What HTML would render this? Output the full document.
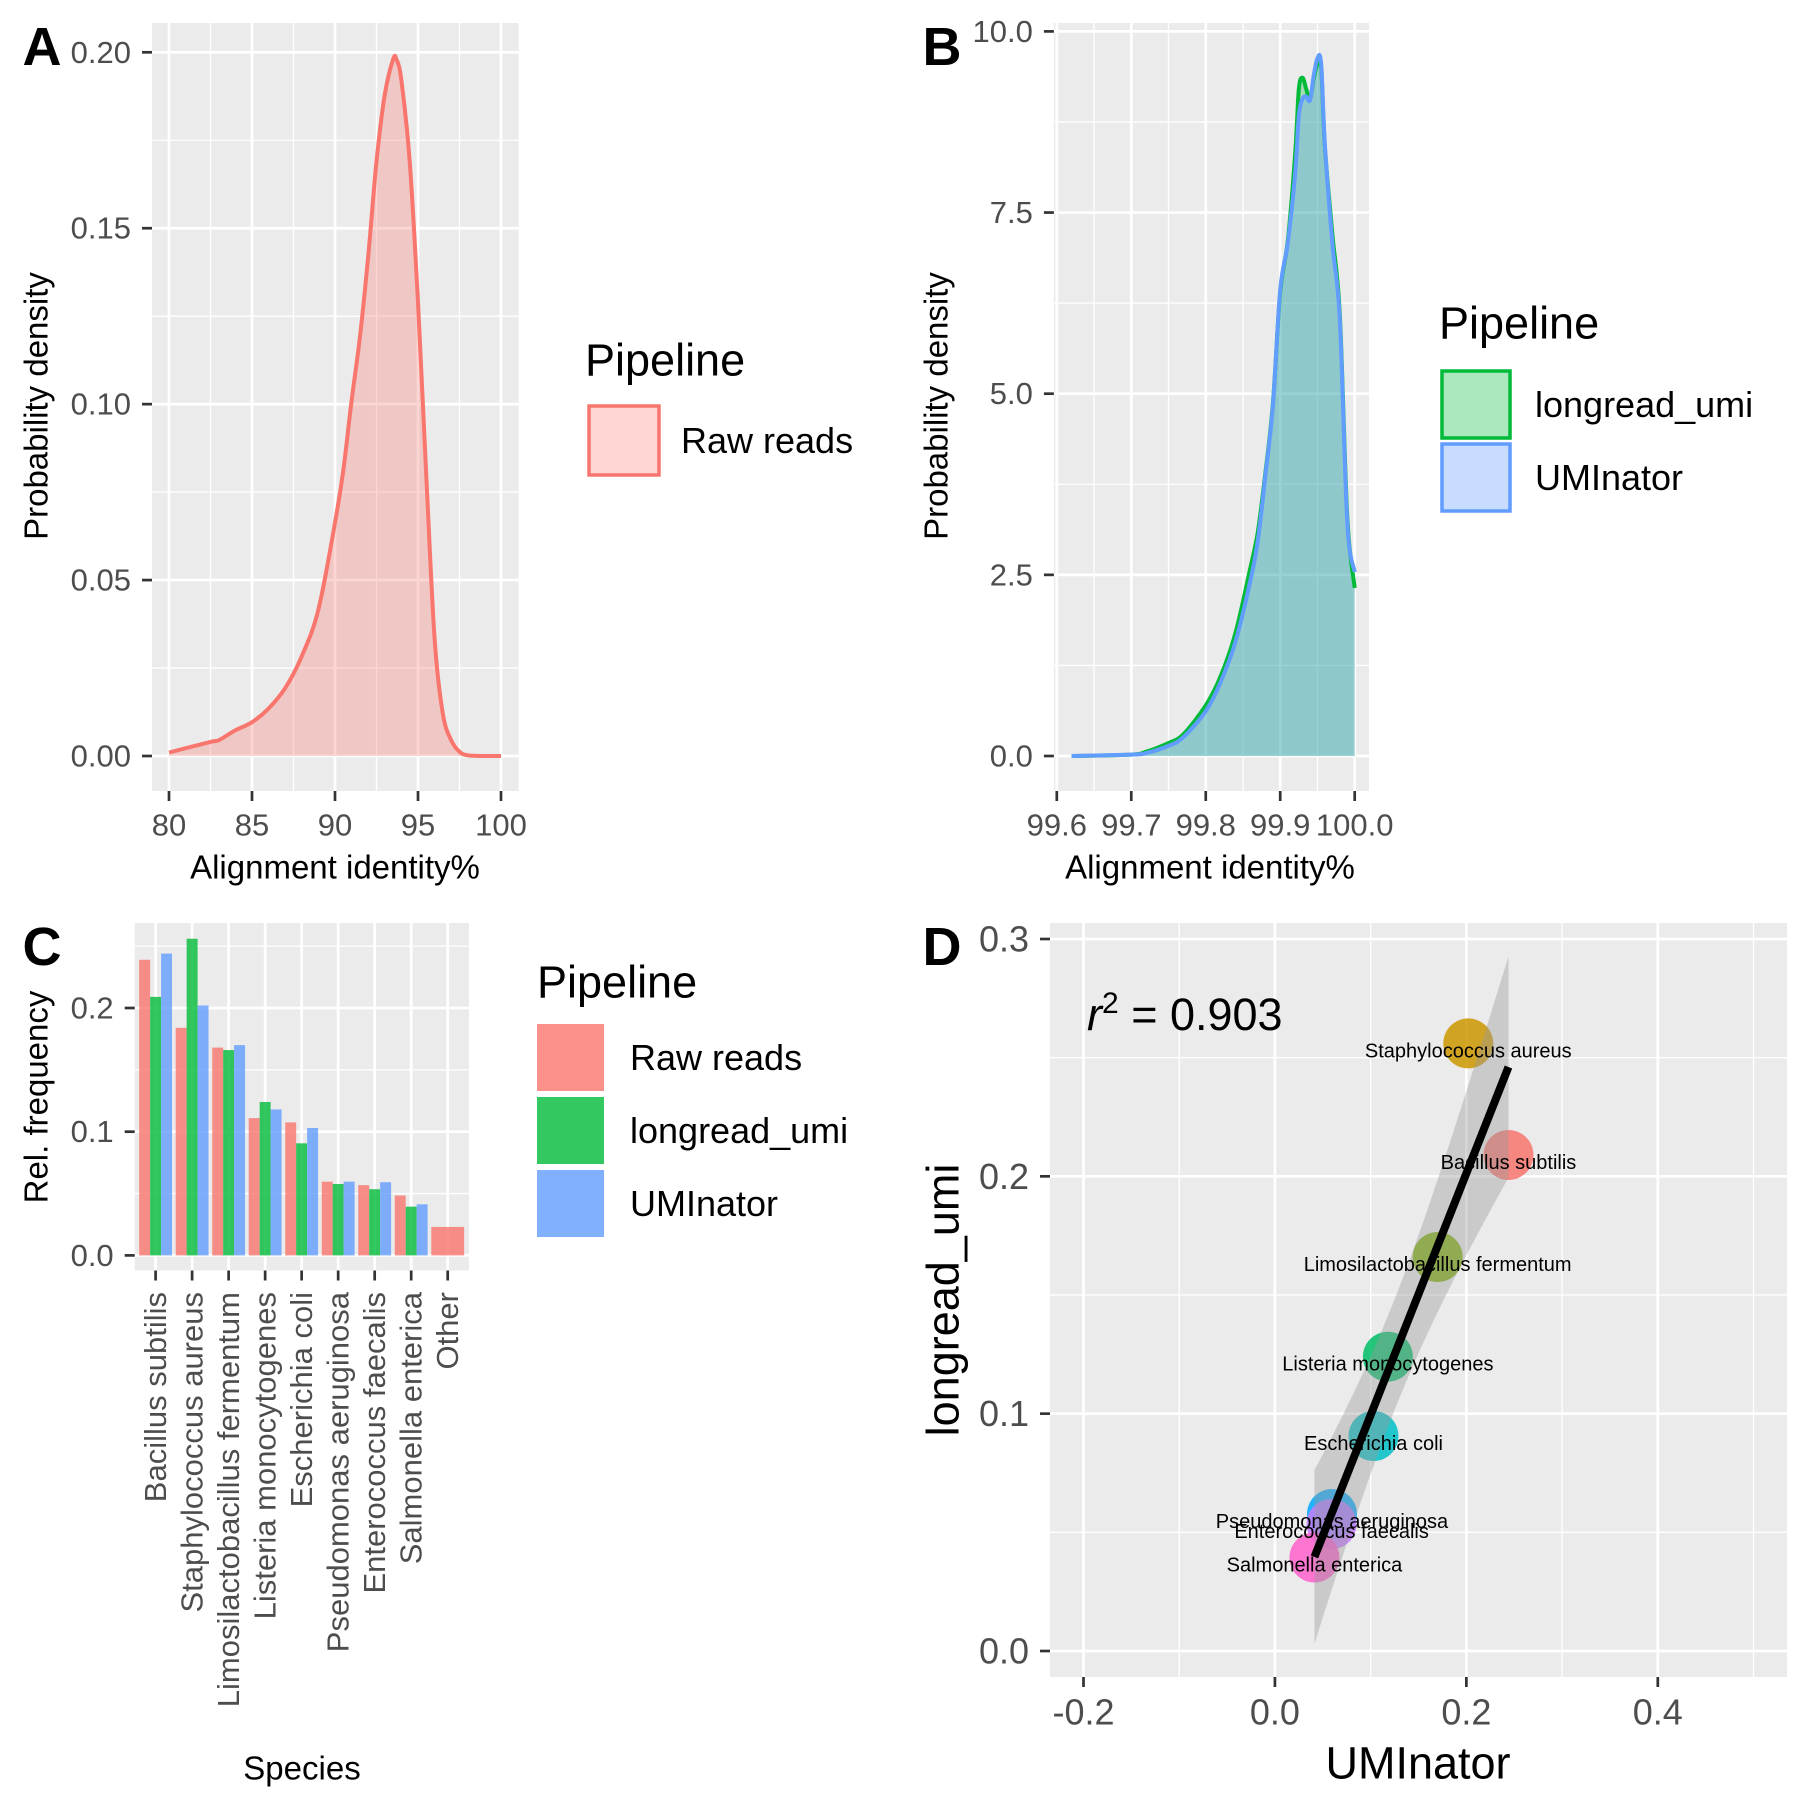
<!DOCTYPE html>
<html><head><meta charset="utf-8"><style>
html,body{margin:0;padding:0;background:#fff}
svg{display:block;font-family:"Liberation Sans",Arial,sans-serif}
</style></head><body>
<svg id="fig" width="1800" height="1800" viewBox="0 0 1800 1800" xmlns="http://www.w3.org/2000/svg"></svg>
<script>
// ---- Panel A data ----
const aX = [80,82.5,83,84,85,86,87,88,89,90,90.5,91,91.5,92,92.5,93,93.5,93.7,94,94.5,95,95.5,96,96.5,97,97.5,98,99,100];
const aY = [0.001,0.004,0.0045,0.0073,0.0096,0.0135,0.0193,0.0284,0.0416,0.0663,0.0812,0.101,0.119,0.142,0.169,0.188,0.198,0.198,0.192,0.169,0.129,0.0795,0.0333,0.0119,0.0045,0.0012,0.0002,0,0];
const aXTicks = [80,85,90,95,100];
const aYTicks = [0,0.05,0.10,0.15,0.20];
const aYLabels = ["0.00","0.05","0.10","0.15","0.20"];
// ---- Panel B data ----
const bX = [99.62,99.70,99.72,99.75,99.77,99.80,99.82,99.84,99.86,99.87,99.88,99.89,99.90,99.91,99.92,99.925,99.93,99.935,99.94,99.945,99.95,99.955,99.96,99.97,99.98,99.99,100.0];
const bUmi = [0,0.02,0.04,0.14,0.26,0.62,1.02,1.58,2.42,2.98,3.86,4.82,6.43,7.07,8.03,8.83,9.07,9.10,9.05,9.39,9.63,9.55,8.43,7.07,6.03,3.22,2.54];
const bLong = [0,0.02,0.06,0.18,0.3,0.7,1.1,1.7,2.6,3.1,3.9,4.85,6.4,7.1,8.3,9.2,9.36,9.2,9.07,9.35,9.55,9.5,8.4,7.2,6.1,3.3,2.32];
const bXTicks = [99.6,99.7,99.8,99.9,100.0];
const bXLabels = ["99.6","99.7","99.8","99.9","100.0"];
const bYTicks = [0,2.5,5,7.5,10];
const bYLabels = ["0.0","2.5","5.0","7.5","10.0"];
// ---- Panel C data ----
const species = ["Bacillus subtilis","Staphylococcus aureus","Limosilactobacillus fermentum","Listeria monocytogenes","Escherichia coli","Pseudomonas aeruginosa","Enterococcus faecalis","Salmonella enterica","Other"];
const cRaw = [0.239,0.184,0.168,0.111,0.1075,0.0596,0.0568,0.0484,0.023];
const cLong = [0.209,0.256,0.166,0.124,0.0906,0.0577,0.0535,0.0394,null];
const cUmi = [0.244,0.202,0.170,0.118,0.103,0.0596,0.0592,0.0413,null];
const cYTicks = [0,0.1,0.2];
const cYLabels = ["0.0","0.1","0.2"];
// ---- Panel D data ----
const dSpecies = ["Bacillus subtilis","Staphylococcus aureus","Limosilactobacillus fermentum","Listeria monocytogenes","Escherichia coli","Pseudomonas aeruginosa","Enterococcus faecalis","Salmonella enterica"];
const dUmi = [0.244,0.202,0.170,0.118,0.103,0.0596,0.0592,0.0413];
const dLong = [0.209,0.256,0.166,0.124,0.0906,0.0577,0.0535,0.0394];
const dColors = ["#F8766D","#CD9600","#7CAE00","#00BE67","#00BFC4","#00A9FF","#C77CFF","#FF61CC"];
const dXTicks = [-0.2,0,0.2,0.4];
const dXLabels = ["-0.2","0.0","0.2","0.4"];
const dYTicks = [0,0.1,0.2,0.3];
const dYLabels = ["0.0","0.1","0.2","0.3"];
const rsqLabel = "0.903";

const NS="http://www.w3.org/2000/svg";
const svg=document.getElementById('fig');
function el(tag,attrs,parent,text){const e=document.createElementNS(NS,tag);for(const k in attrs)e.setAttribute(k,attrs[k]);if(text!==undefined)e.textContent=text;(parent||svg).appendChild(e);return e;}
function lin(d0,d1,r0,r1){return v=>r0+(v-d0)*(r1-r0)/(d1-d0);}
const TF=31, TT=33;

function panelFrame(name,bg,xs,ys,xMajor,xMinor,yMajor,yMinor){
  const g=el('g',{});
  
  
  const r=el('rect',{x:bg[0],y:bg[1],width:bg[2]-bg[0],height:bg[3]-bg[1],fill:'#EBEBEB'},g);
  
  
  yMinor.forEach(v=>el('line',{x1:bg[0],x2:bg[2],y1:ys(v),y2:ys(v),stroke:'#fff','stroke-width':1.3},g));
  xMinor.forEach(v=>el('line',{y1:bg[1],y2:bg[3],x1:xs(v),x2:xs(v),stroke:'#fff','stroke-width':1.3},g));
  yMajor.forEach(v=>el('line',{x1:bg[0],x2:bg[2],y1:ys(v),y2:ys(v),stroke:'#fff','stroke-width':2.7},g));
  xMajor.forEach(v=>el('line',{y1:bg[1],y2:bg[3],x1:xs(v),x2:xs(v),stroke:'#fff','stroke-width':2.7},g));
  return g;
}
function yAxis(g,name,bg,ys,ticks,labels,fs){
  ticks.forEach((v,i)=>{
    el('line',{x1:bg[0]-10,x2:bg[0],y1:ys(v),y2:ys(v),stroke:'#333','stroke-width':2.7},g);
    const t=el('text',{x:bg[0]-21,y:ys(v),'text-anchor':'end','dominant-baseline':'central','font-size':fs,fill:'#4D4D4D'},g,labels[i]);
    
    
  });
}
function xAxis(g,name,bg,xs,ticks,labels,fs,ly){
  ticks.forEach((v,i)=>{
    el('line',{y1:bg[3],y2:bg[3]+10,x1:xs(v),x2:xs(v),stroke:'#333','stroke-width':2.7},g);
    const t=el('text',{x:xs(v),y:ly,'text-anchor':'middle','dominant-baseline':'central','font-size':fs,fill:'#4D4D4D'},g,labels[i]);
    
    
  });
}
function title(g,name,txt,x,y,fs,rot,bold){
  const a={x:x,y:y,'text-anchor':'middle','dominant-baseline':'central','font-size':fs,fill:'#000'};
  if(rot)a.transform='rotate(-90 '+x+' '+y+')';
  if(bold)a['font-weight']='bold';
  const t=el('text',a,g,txt);
  
  
  return t;
}
function smooth(P){
  let d='M'+P[0][0].toFixed(1)+','+P[0][1].toFixed(1);
  for(let i=0;i<P.length-1;i++){
    const p0=P[Math.max(0,i-1)],p1=P[i],p2=P[i+1],p3=P[Math.min(P.length-1,i+2)];
    const c1=[p1[0]+(p2[0]-p0[0])/6,p1[1]+(p2[1]-p0[1])/6];
    const c2=[p2[0]-(p3[0]-p1[0])/6,p2[1]-(p3[1]-p1[1])/6];
    d+=' C'+c1.map(v=>v.toFixed(1)).join(',')+' '+c2.map(v=>v.toFixed(1)).join(',')+' '+p2.map(v=>v.toFixed(1)).join(',');
  }
  return d;
}
function linePath(xs,ys,X,Y){return smooth(X.map((x,i)=>[xs(x),ys(Y[i])]));}
function areaPath(xs,ys,X,Y){return linePath(xs,ys,X,Y)+' L'+xs(X[X.length-1])+','+ys(0)+' L'+xs(X[0])+','+ys(0)+' Z';}
function legendKey(g,name,x,y,w,h,fill,stroke,label,lx,fs){
  const k=el('rect',{x:x,y:y,width:w,height:h,fill:fill,stroke:stroke||'none','stroke-width':stroke?3.5:0},g);
  
  
  const t=el('text',{x:lx,y:y+h/2,'dominant-baseline':'central','font-size':fs,fill:'#000'},g,label);
  
  
}

// ===== Panel A =====
(function(){
  const bg=[152,23,518.6,791];
  const xs=lin(80,100,169,501), ys=lin(0,0.2,756,52.3);
  const g=panelFrame('panel-a',bg,xs,ys,aXTicks,[82.5,87.5,92.5,97.5],aYTicks,[0.025,0.075,0.125,0.175]);
  const ar=el('path',{d:areaPath(xs,ys,aX,aY),fill:'#F8766D','fill-opacity':0.3},g);
  
  
  const ln=el('path',{d:linePath(xs,ys,aX,aY),fill:'none',stroke:'#F8766D','stroke-width':4,'stroke-linejoin':'round'},g);
  
  
  yAxis(g,'panel-a',bg,ys,aYTicks,aYLabels,TF);
  xAxis(g,'panel-a',bg,xs,aXTicks,aXTicks.map(String),TF,825);
  title(g,'panel-a-x-axis-title','Alignment identity%',335,867,TT);
  title(g,'panel-a-y-axis-title','Probability density',36,406,TT,true);
  title(g,'panel-a-label','A',42,47,54,false,true);
  const lg=el('g',{},g);
  
  
  const lt=el('text',{x:585,y:360,'dominant-baseline':'central','font-size':45,fill:'#000'},lg,'Pipeline');
  
  
  el('rect',{x:589,y:406,width:70,height:69,fill:'#fff'},lg);
  legendKey(lg,'legend-raw-reads',589,406,70,69,'rgba(248,118,109,0.3)','#F8766D','Raw reads',681,36);
})();

// ===== Panel B =====
(function(){
  const bg=[1053.9,23,1369,791];
  const xs=lin(99.6,100,1056.8,1354.7), ys=lin(0,10,756,31.4);
  const g=panelFrame('panel-b',bg,xs,ys,bXTicks,[99.65,99.75,99.85,99.95],bYTicks,[1.25,3.75,6.25,8.75]);
  const a1=el('path',{d:areaPath(xs,ys,bX,bLong),fill:'#00BA38','fill-opacity':0.3},g);
  
  
  const a2=el('path',{d:areaPath(xs,ys,bX,bUmi),fill:'#619CFF','fill-opacity':0.3},g);
  
  
  const l1=el('path',{d:linePath(xs,ys,bX,bLong),fill:'none',stroke:'#00BA38','stroke-width':4,'stroke-linejoin':'round'},g);
  
  
  const l2=el('path',{d:linePath(xs,ys,bX,bUmi),fill:'none',stroke:'#619CFF','stroke-width':4,'stroke-linejoin':'round'},g);
  
  
  yAxis(g,'panel-b',bg,ys,bYTicks,bYLabels,TF);
  xAxis(g,'panel-b',bg,xs,bXTicks,bXLabels,TF,825);
  title(g,'panel-b-x-axis-title','Alignment identity%',1210,867,TT);
  title(g,'panel-b-y-axis-title','Probability density',936,406,TT,true);
  title(g,'panel-b-label','B',942,47,54,false,true);
  const lg=el('g',{},g);
  
  
  const lt=el('text',{x:1439,y:323,'dominant-baseline':'central','font-size':45,fill:'#000'},lg,'Pipeline');
  
  
  legendKey(lg,'legend-longread-umi',1442,371,68,67,'rgba(0,186,56,0.33)','#00BA38','longread_umi',1535,36);
  legendKey(lg,'legend-uminator',1442,444,68,67,'rgba(97,156,255,0.35)','#619CFF','UMInator',1535,36);
})();

// ===== Panel C =====
(function(){
  const bg=[134.7,923,469,1270.5];
  const n=species.length;
  const xs=lin(0,n-1,155.6,447.7), ys=lin(0,0.2,1255.4,1008);
  const idx=species.map((s,i)=>i);
  const g=panelFrame('panel-c',bg,xs,ys,idx,[],cYTicks,[0.05,0.15,0.25]);
  const step=xs(1)-xs(0), gw=step*0.9;
  const cols=['rgba(248,118,109,0.8)','rgba(0,186,56,0.8)','rgba(97,156,255,0.8)'];
  const names=['raw-reads','longread-umi','uminator'];
  species.forEach((s,i)=>{
    const vals=[cRaw[i],cLong[i],cUmi[i]].map((v,j)=>({v:v,j:j})).filter(o=>o.v!==null);
    const bw=gw/vals.length;
    vals.forEach((o,k)=>{
      const x0=xs(i)-gw/2+k*bw;
      const b=el('rect',{x:x0,y:ys(o.v),width:bw,height:ys(0)-ys(o.v),fill:cols[o.j]},g);
      
      
    });
  });
  yAxis(g,'panel-c',bg,ys,cYTicks,cYLabels,TF);
  species.forEach((s,i)=>{
    el('line',{y1:bg[3],y2:bg[3]+10,x1:xs(i),x2:xs(i),stroke:'#333','stroke-width':2.7},g);
    const t=el('text',{x:xs(i),y:1292,'text-anchor':'end','dominant-baseline':'central','font-size':TF,fill:'#4D4D4D',transform:'rotate(-90 '+xs(i)+' 1292)'},g,s);
    
    
  });
  title(g,'panel-c-x-axis-title','Species',302,1768,TT);
  title(g,'panel-c-y-axis-title','Rel. frequency',36,1097,TT,true);
  title(g,'panel-c-label','C',42,947,54,false,true);
  const lg=el('g',{},g);
  
  
  const lt=el('text',{x:537,y:982,'dominant-baseline':'central','font-size':45,fill:'#000'},lg,'Pipeline');
  
  
  legendKey(lg,'legend-raw-reads',537,1024,67,67,cols[0],null,'Raw reads',630,36);
  legendKey(lg,'legend-longread-umi',537,1097,67,67,cols[1],null,'longread_umi',630,36);
  legendKey(lg,'legend-uminator',537,1170,67,67,cols[2],null,'UMInator',630,36);
})();

// ===== Panel D =====
(function(){
  const bg=[1050,923,1787,1677];
  const xs=lin(-0.2,0.4,1083.5,1657.8), ys=lin(0,0.3,1651,939);
  const g=panelFrame('panel-d',bg,xs,ys,dXTicks,[-0.1,0.1,0.3,0.5],dYTicks,[0.05,0.15,0.25]);
  dUmi.forEach((x,i)=>{
    const c=el('circle',{cx:xs(x),cy:ys(dLong[i]),r:25,fill:dColors[i],'fill-opacity':0.85},g);
    
    
  });
  const n=dUmi.length;
  const mx=dUmi.reduce((a,b)=>a+b)/n, my=dLong.reduce((a,b)=>a+b)/n;
  let sxx=0,sxy=0;dUmi.forEach((x,i)=>{sxx+=(x-mx)**2;sxy+=(x-mx)*(dLong[i]-my);});
  const b1=sxy/sxx,b0=my-b1*mx;
  let sse=0;dUmi.forEach((x,i)=>{sse+=(dLong[i]-b0-b1*x)**2;});
  const s=Math.sqrt(sse/(n-2)),tq=2.447;
  const xmin=Math.min(...dUmi),xmax=Math.max(...dUmi);
  const up=[],lo=[];
  for(let k=0;k<=40;k++){const x=xmin+(xmax-xmin)*k/40;const f=b0+b1*x;const se=s*Math.sqrt(1/n+(x-mx)**2/sxx);up.push([xs(x),ys(f+tq*se)]);lo.push([xs(x),ys(f-tq*se)]);}
  const pts=up.concat(lo.reverse()).map(p=>p[0].toFixed(1)+','+p[1].toFixed(1)).join(' ');
  const band=el('polygon',{points:pts,fill:'#999','fill-opacity':0.4},g);
  
  
  const rl=el('line',{x1:xs(xmin),y1:ys(b0+b1*xmin),x2:xs(xmax),y2:ys(b0+b1*xmax),stroke:'#000','stroke-width':8},g);
  
  
  dUmi.forEach((x,i)=>{
    const t=el('text',{x:xs(x),y:ys(dLong[i])+14,'text-anchor':'middle','font-size':20,fill:'#000'},g,dSpecies[i]);
    
    
  });
  const rt=el('text',{x:1087,y:1030,'font-size':45,fill:'#000'},g);
  
  
  el('tspan',{'font-style':'italic'},rt,'r');
  el('tspan',{dy:-17,'font-size':30},rt,'2');
  el('tspan',{dy:17},rt,' = '+rsqLabel);
  yAxis(g,'panel-d',bg,ys,dYTicks,dYLabels,36);
  xAxis(g,'panel-d',bg,xs,dXTicks,dXLabels,36,1712);
  title(g,'panel-d-x-axis-title','UMInator',1418,1763,45);
  title(g,'panel-d-y-axis-title','longread_umi',943,1300,45,true);
  title(g,'panel-d-label','D',942,947,54,false,true);
})();
</script>
</body></html>
